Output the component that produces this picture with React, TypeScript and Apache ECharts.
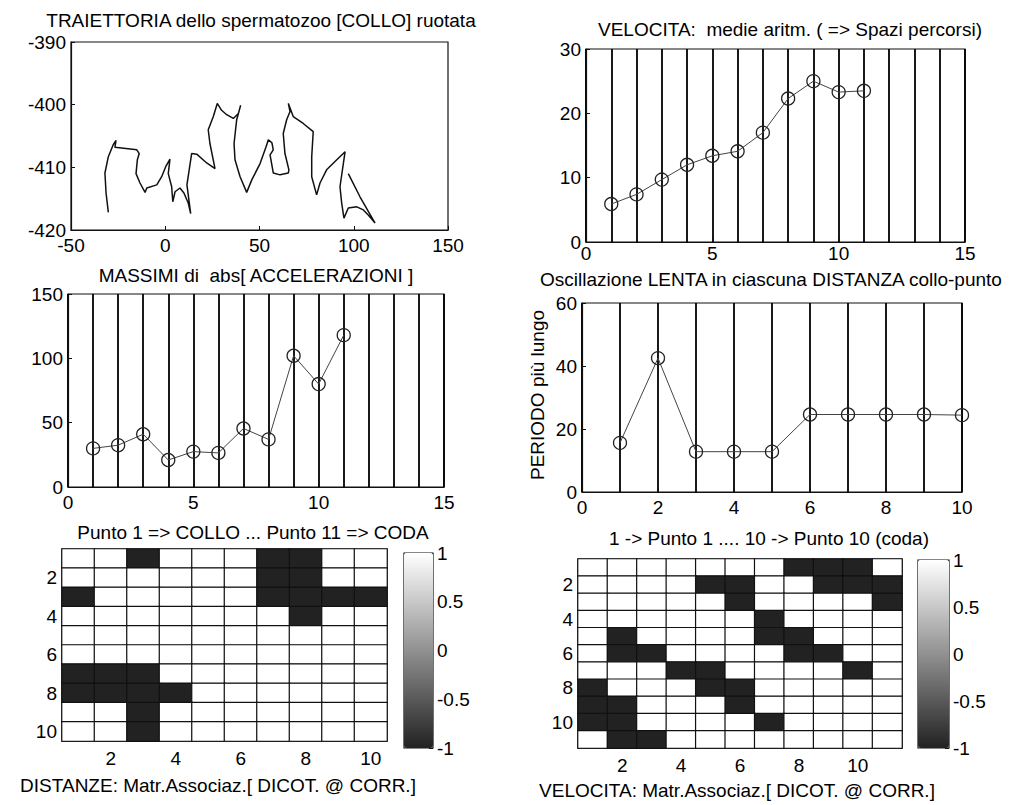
import React, { useEffect, useRef } from 'react';
import * as echarts from 'echarts';

// ---- Panel 1: trajectory of the neck (rotated) ----
const trajX = [-30.2, -31.4, -32.0, -30.2, -27.6, -26.1, -26.7, -15.1, -13.8, -14.8, -15.5, -13.4, -10.7, -9.8, -4.5, -1.9, 0.4, 2.5, 1.6, 3.4, 4.0, 5.2, 7.8, 9.9, 12.2, 13.5, 11.5, 14.0, 16.7, 22.0, 26.4, 23.7, 22.8, 25.5, 27.6, 29.9, 32.6, 36.1, 38.8, 40.0, 37.9, 36.5, 37.0, 39.7, 43.2, 45.9, 50.3, 53.4, 54.7, 56.6, 57.3, 55.6, 57.3, 60.9, 65.3, 65.6, 63.5, 62.6, 64.4, 66.2, 65.3, 67.9, 73.2, 78.5, 77.7, 77.7, 80.3, 82.1, 85.6, 91.0, 95.4, 92.7, 93.6, 94.8, 97.1, 101.6, 105.1, 107.7, 111.3, 103.3, 97.1];
const trajY = [-417.2, -414.1, -410.9, -408.3, -406.4, -405.7, -406.8, -407.2, -407.8, -408.8, -411.0, -412.5, -414.0, -413.3, -412.8, -411.5, -409.8, -408.7, -411.0, -413.1, -415.5, -413.9, -413.3, -414.1, -415.7, -417.4, -412.8, -407.8, -407.9, -409.3, -410.2, -406.2, -404.0, -401.9, -399.8, -400.9, -401.6, -402.2, -401.4, -400.1, -402.4, -406.2, -408.8, -411.5, -414.0, -412.0, -409.4, -406.8, -405.6, -406.1, -407.2, -408.0, -410.9, -411.2, -410.9, -410.4, -407.8, -404.6, -402.4, -401.1, -399.8, -401.9, -403.0, -404.3, -408.3, -411.5, -414.4, -412.5, -410.4, -408.8, -407.5, -413.1, -415.7, -418.1, -416.5, -416.3, -416.8, -417.6, -418.9, -414.7, -411.0];

// ---- Panel 2: velocities (arithmetic means) ----
const velPoints = [1, 2, 3, 4, 5, 6, 7, 8, 9, 10, 11];
const velocita = [5.9, 7.4, 9.7, 12.0, 13.4, 14.1, 17.0, 22.3, 25.0, 23.3, 23.5];

// ---- Panel 3: max of abs accelerations ----
const accPoints = [1, 2, 3, 4, 5, 6, 7, 8, 9, 10, 11];
const accelerazioni = [30, 32.5, 41, 21, 27.5, 26.5, 45.5, 37, 102, 80, 118];

// ---- Panel 4: longest period ----
const perPoints = [1, 2, 3, 4, 5, 6, 7, 8, 9, 10];
const periodo = [15.6, 42.5, 12.8, 12.8, 12.8, 24.6, 24.6, 24.6, 24.6, 24.4];

// ---- Panel 5: DISTANZE association matrix (dichotomised correlation) ----
const distanzeLabels = ['1', '2', '3', '4', '5', '6', '7', '8', '9', '10'];
const distanzeMatrix = [
  [1, 1, -1, 1, 1, 1, -1, -1, 1, 1],
  [1, 1, 1, 1, 1, 1, -1, -1, 1, 1],
  [-1, 1, 1, 1, 1, 1, -1, -1, -1, -1],
  [1, 1, 1, 1, 1, 1, 1, -1, 1, 1],
  [1, 1, 1, 1, 1, 1, 1, 1, 1, 1],
  [1, 1, 1, 1, 1, 1, 1, 1, 1, 1],
  [-1, -1, -1, 1, 1, 1, 1, 1, 1, 1],
  [-1, -1, -1, -1, 1, 1, 1, 1, 1, 1],
  [1, 1, -1, 1, 1, 1, 1, 1, 1, 1],
  [1, 1, -1, 1, 1, 1, 1, 1, 1, 1],
];

// ---- Panel 6: VELOCITA association matrix ----
const velocitaLabels = ['1', '2', '3', '4', '5', '6', '7', '8', '9', '10', '11'];
const velocitaMatrix = [
  [1, 1, 1, 1, 1, 1, 1, -1, -1, -1, 1],
  [1, 1, 1, 1, -1, -1, 1, 1, -1, -1, -1],
  [1, 1, 1, 1, 1, -1, 1, 1, 1, 1, -1],
  [1, 1, 1, 1, 1, 1, -1, 1, 1, 1, 1],
  [1, -1, 1, 1, 1, 1, -1, -1, 1, 1, 1],
  [1, -1, -1, 1, 1, 1, 1, -1, -1, 1, 1],
  [1, 1, 1, -1, -1, 1, 1, 1, 1, -1, 1],
  [-1, 1, 1, 1, -1, -1, 1, 1, 1, 1, 1],
  [-1, -1, 1, 1, 1, -1, 1, 1, 1, 1, 1],
  [-1, -1, 1, 1, 1, 1, -1, 1, 1, 1, 1],
  [1, -1, -1, 1, 1, 1, 1, 1, 1, 1, 1],
];

const colorbarTicks = [-1, -0.5, 0, 0.5, 1];

const FONT = "'Liberation Sans', Arial, Helvetica, sans-serif";
const FS = 19;
const INK = '#111';

function toCells(m: number[][]) {
  const out: number[][] = [];
  m.forEach((row, r) => row.forEach((v, c) => out.push([c, r, v])));
  return out;
}

const labelStyle = { color: '#000', fontFamily: FONT, fontSize: FS };

function valueX(grid: number, min: number, max: number, interval: number, margin = 6) {
  return {
    type: 'value', gridIndex: grid, min, max, interval, position: 'bottom',
    axisLine: { show: true, onZero: false, lineStyle: { color: INK, width: 1.2 } },
    axisTick: { show: true, inside: true, length: 4, lineStyle: { color: INK } },
    axisLabel: { ...labelStyle, margin },
    splitLine: { show: false },
  };
}
function splitX(grid: number, min: number, max: number) {
  return {
    type: 'value', gridIndex: grid, min, max, interval: 1, position: 'top',
    axisLine: { show: false, onZero: false }, axisTick: { show: false }, axisLabel: { show: false },
    splitLine: { show: true, lineStyle: { color: '#000', width: 1.8 } },
  };
}
function valueY(grid: number, min: number, max: number, interval: number) {
  return {
    type: 'value', gridIndex: grid, min, max, interval,
    axisLine: { show: true, onZero: false, lineStyle: { color: INK, width: 1.2 } },
    axisTick: { show: true, inside: true, length: 4, lineStyle: { color: INK } },
    axisLabel: { ...labelStyle, margin: 5 },
    splitLine: { show: false },
  };
}
const evenIdx = (i: number) => i % 2 === 1;
function catX(grid: number, data: string[]) {
  return {
    type: 'category', gridIndex: grid, data, position: 'bottom',
    axisLine: { show: true, onZero: false, lineStyle: { color: INK } },
    axisTick: { show: true, inside: true, length: 4, alignWithLabel: true, interval: evenIdx, lineStyle: { color: INK } },
    axisLabel: { ...labelStyle, margin: 8, interval: evenIdx },
    splitLine: { show: false },
  };
}
function catY(grid: number, data: string[]) {
  return {
    type: 'category', gridIndex: grid, data, inverse: true,
    axisLine: { show: true, onZero: false, lineStyle: { color: INK } },
    axisTick: { show: true, inside: true, length: 4, alignWithLabel: true, interval: evenIdx, lineStyle: { color: INK } },
    axisLabel: { ...labelStyle, margin: 5, interval: evenIdx },
    splitLine: { show: false },
  };
}
function cbY(grid: number) {
  return {
    type: 'value', gridIndex: grid, min: colorbarTicks[0], max: colorbarTicks[colorbarTicks.length - 1], interval: 0.5,
    position: 'right',
    axisLine: { show: false, onZero: false },
    axisTick: { show: true, inside: true, length: 4, lineStyle: { color: INK } },
    axisLabel: { ...labelStyle, margin: 4 },
    splitLine: { show: false },
  };
}
const hiddenX = (grid: number) => ({ type: 'value', gridIndex: grid, min: 0, max: 1, show: false });

const gridBox = (left: number, top: number, width: number, height: number) => ({
  left, top, width, height, show: true, borderColor: INK, borderWidth: 1.2,
  backgroundColor: 'transparent', containLabel: false, outerBoundsMode: 'none',
});

const text = (t: string, x: number, y: number, extra: any = {}) => ({
  type: 'text', x, y, silent: true, ...extra,
  style: { text: t, fill: '#000', font: `${FS}px ${FONT}`, align: 'center', verticalAlign: 'middle' },
});

const markerSeries = (xa: number, ya: number, xs: number[], ys: number[]) => ({
  type: 'line', xAxisIndex: xa, yAxisIndex: ya,
  data: xs.map((x, i) => [x, ys[i]]),
  symbol: 'circle', symbolSize: 13, showSymbol: true,
  lineStyle: { color: '#444', width: 1 },
  itemStyle: { color: 'rgba(0,0,0,0)', borderColor: '#222', borderWidth: 1.3 },
  z: 5,
});

const grayRamp = ['#222222', '#ffffff'];

export default function App() {
  const ref = useRef<HTMLDivElement>(null);
  useEffect(() => {
    if (!ref.current) return;
    const chart = echarts.init(ref.current, null, { renderer: 'svg' });
    const option: any = {
      animation: false,
      backgroundColor: '#fff',
      textStyle: { fontFamily: FONT },
      grid: [
        gridBox(71, 42, 377, 188),
        gridBox(586, 49, 379, 193),
        gridBox(68, 294, 376, 193),
        gridBox(582, 303, 380, 189),
        gridBox(62, 549, 325, 192),
        gridBox(578, 559, 324, 189),
        gridBox(404, 553, 29, 195),
        gridBox(918, 560, 31, 188),
      ],
      xAxis: [
        valueX(0, -50, 150, 50),
        valueX(1, 0, 15, 5, 2),
        splitX(1, 0, 15),
        valueX(2, 0, 15, 5),
        splitX(2, 0, 15),
        valueX(3, 0, 10, 2),
        splitX(3, 0, 10),
        catX(4, distanzeLabels),
        catX(5, velocitaLabels),
        hiddenX(6),
        hiddenX(7),
      ],
      yAxis: [
        valueY(0, -420, -390, 10),
        valueY(1, 0, 30, 10),
        valueY(2, 0, 150, 50),
        valueY(3, 0, 60, 20),
        catY(4, distanzeLabels),
        catY(5, velocitaLabels),
        cbY(6),
        cbY(7),
      ],
      visualMap: [
        {
          type: 'continuous', min: -1, max: 1, seriesIndex: 4, calculable: false, hoverLink: false,
          left: 404, top: 553, itemWidth: 29, itemHeight: 195, padding: 0, text: null,
          inRange: { color: grayRamp }, z: 1,
        },
        {
          type: 'continuous', min: -1, max: 1, seriesIndex: 5, calculable: false, hoverLink: false,
          left: 918, top: 560, itemWidth: 31, itemHeight: 188, padding: 0, text: null,
          inRange: { color: grayRamp }, z: 1,
        },
      ],
      series: [
        {
          type: 'line', xAxisIndex: 0, yAxisIndex: 0,
          data: trajX.map((x, i) => [x, trajY[i]]),
          showSymbol: false, symbol: 'none',
          lineStyle: { color: '#111', width: 1.5 },
        },
        markerSeries(1, 1, velPoints, velocita),
        markerSeries(3, 2, accPoints, accelerazioni),
        markerSeries(5, 3, perPoints, periodo),
        {
          type: 'heatmap', xAxisIndex: 7, yAxisIndex: 4, data: toCells(distanzeMatrix),
          itemStyle: { borderColor: '#111', borderWidth: 1.2 }, emphasis: { disabled: true },
        },
        {
          type: 'heatmap', xAxisIndex: 8, yAxisIndex: 5, data: toCells(velocitaMatrix),
          itemStyle: { borderColor: '#111', borderWidth: 1.2 }, emphasis: { disabled: true },
        },
      ],
      graphic: [
        text('TRAIETTORIA dello spermatozoo [COLLO] ruotata', 261, 20),
        text('VELOCITA:  medie aritm. ( => Spazi percorsi)', 790, 29),
        text('MASSIMI di  abs[ ACCELERAZIONI ]', 256, 275),
        text('Oscillazione LENTA in ciascuna DISTANZA collo-punto', 771, 279),
        text('Punto 1 => COLLO ... Punto 11 => CODA', 253, 532),
        text('1 -> Punto 1 .... 10 -> Punto 10 (coda)', 769, 538),
        text('DISTANZE: Matr.Associaz.[ DICOT. @ CORR.]', 218, 785),
        text('VELOCITA: Matr.Associaz.[ DICOT. @ CORR.]', 737, 790),
        text('PERIODO più lungo', 537, 395, { rotation: Math.PI / 2 }),
      ],
    };
    chart.setOption(option);
    return () => chart.dispose();
  }, []);
  return (
    <div
      ref={ref}
      style={{ position: 'absolute', left: 0, top: 0, width: 1022, height: 805, background: '#fff' }}
    />
  );
}
